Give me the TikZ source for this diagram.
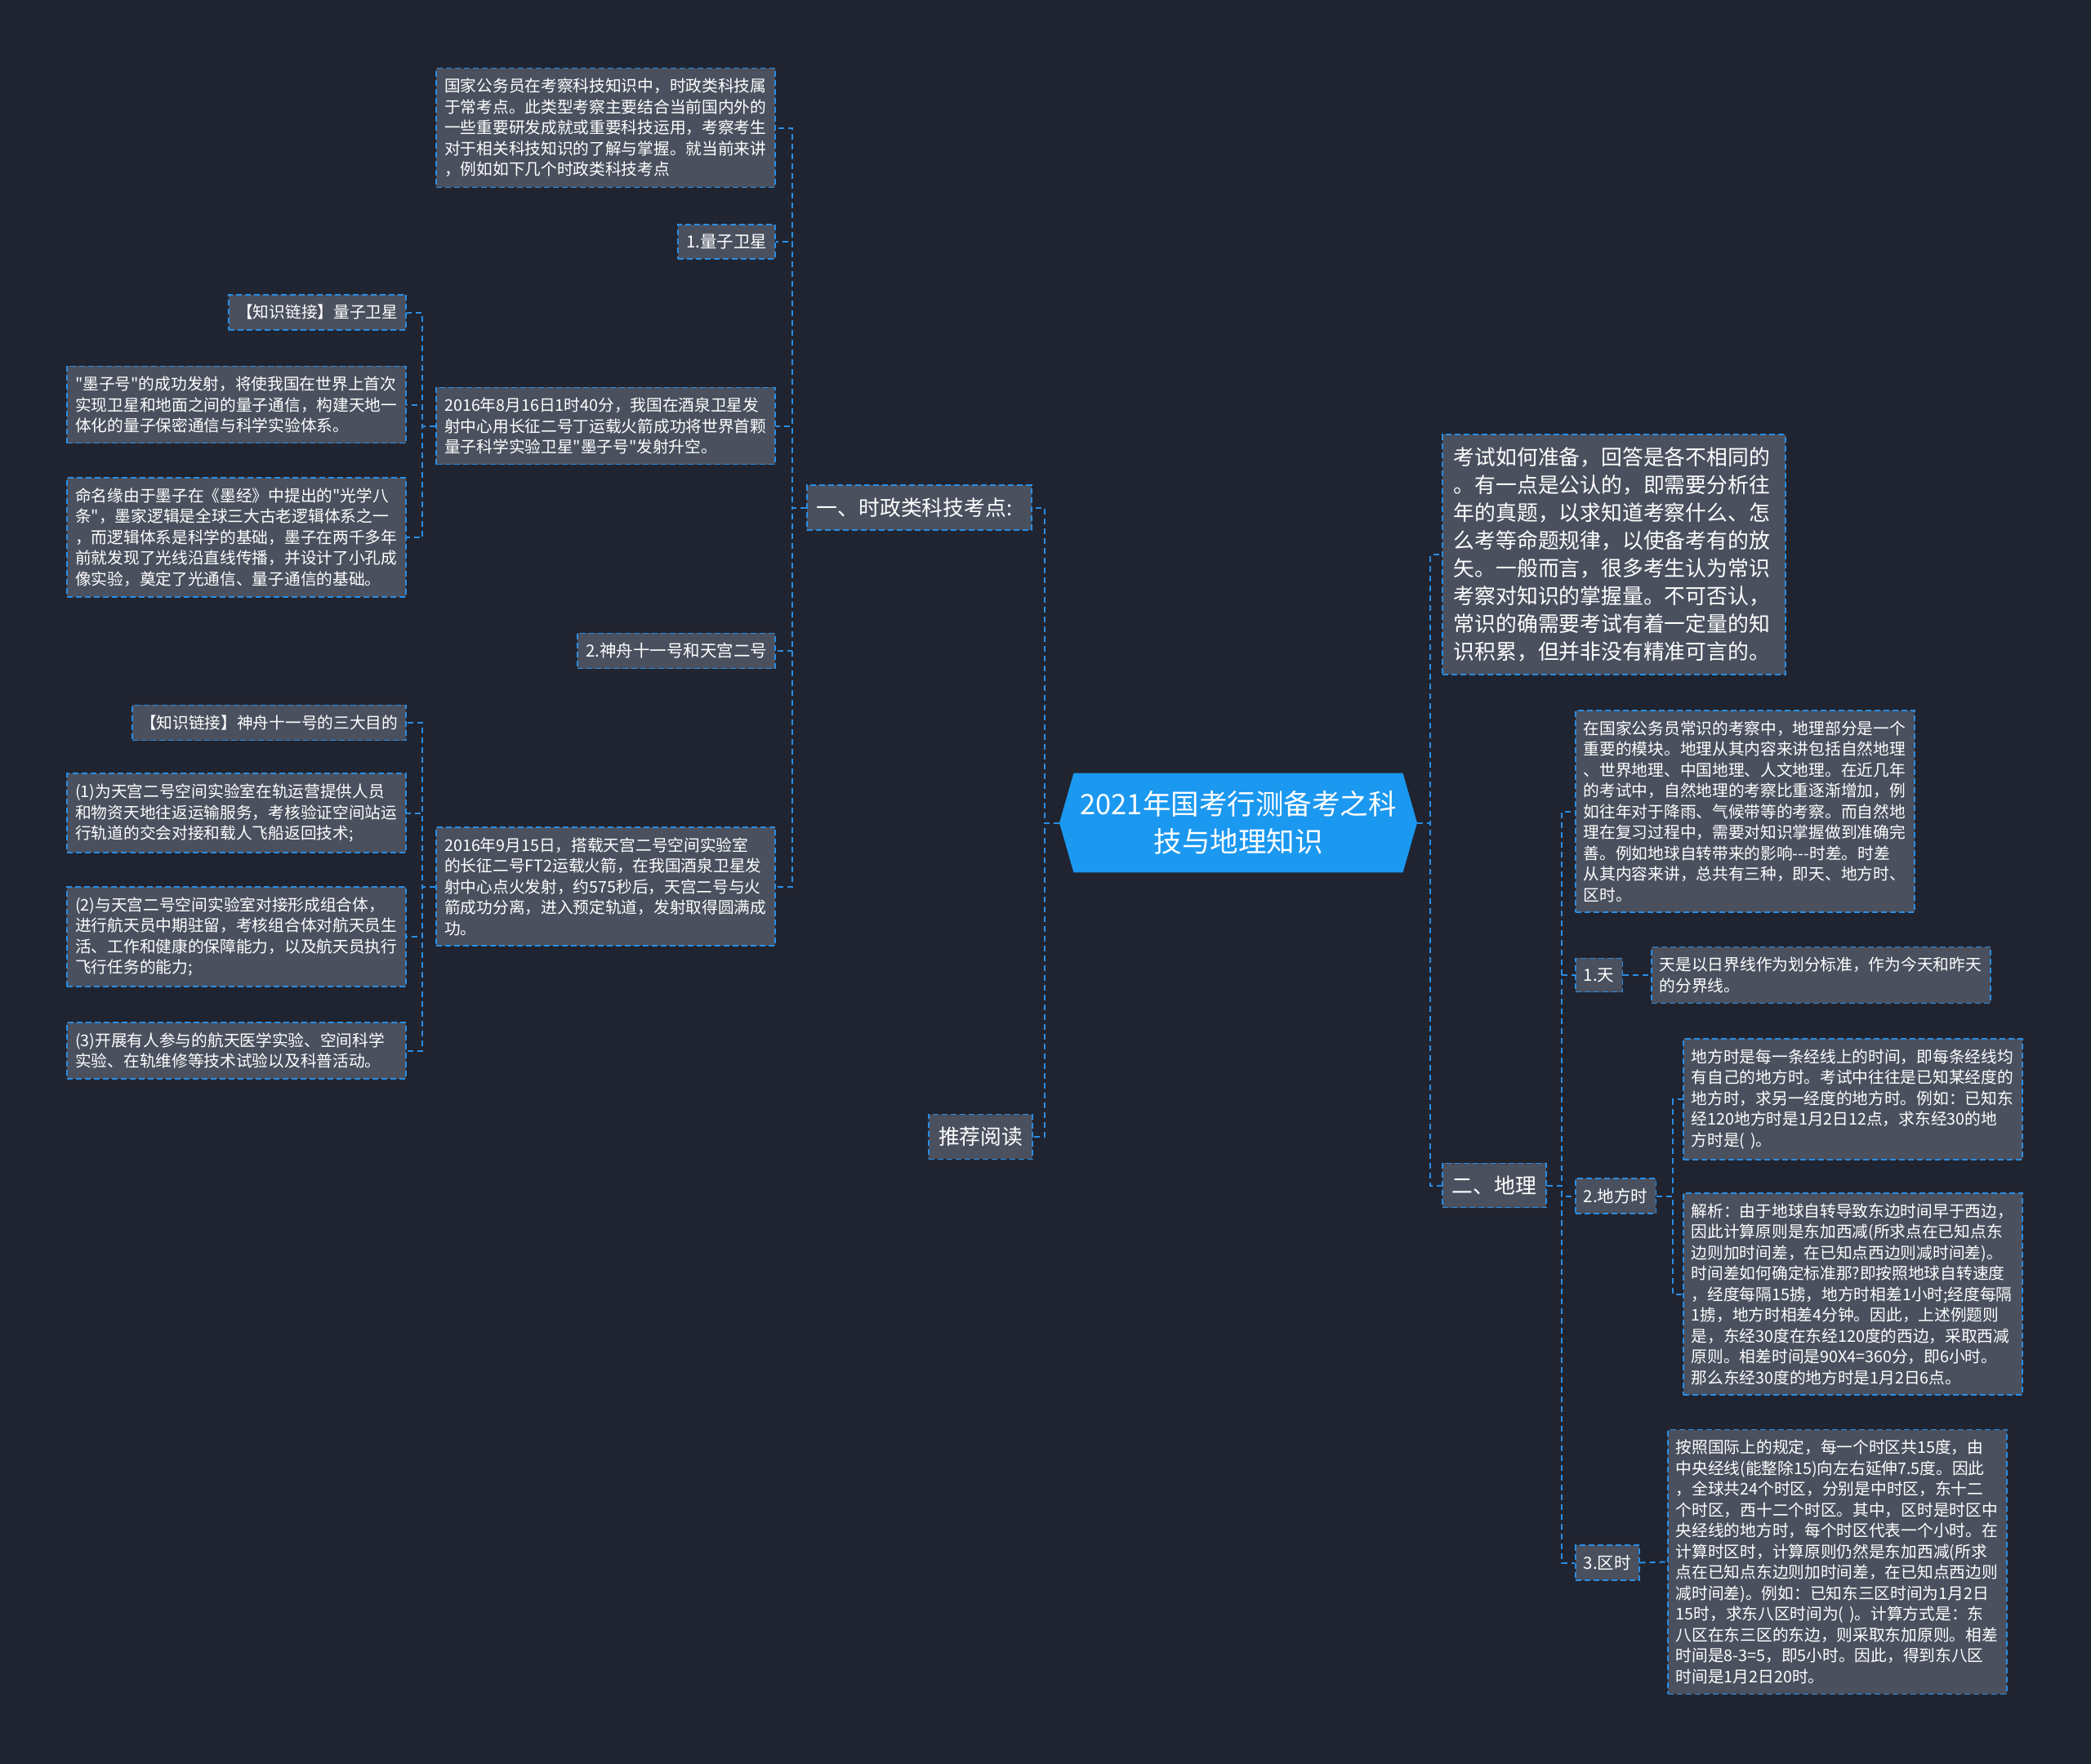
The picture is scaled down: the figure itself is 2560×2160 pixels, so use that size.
\documentclass[tikz,border=0pt]{standalone}
\usepackage{fontspec}
\newfontfamily\cjkfont{Noto Sans CJK SC}
\usetikzlibrary{shapes.symbols}

\definecolor{pagebg}{RGB}{32,36,48}
\definecolor{cardbg}{RGB}{74,80,94}
\definecolor{wireblue}{RGB}{41,141,228}
\definecolor{rootblue}{RGB}{27,152,240}

\begin{document}
\begin{tikzpicture}[x=1pt, y=-1pt,
    link/.style={draw=wireblue, line width=2pt, dash pattern=on 7pt off 5pt},
    card/.style={draw=wireblue, line width=1.6pt, dash pattern=on 7pt off 4pt, fill=cardbg, text=white,
        align=left, inner xsep=10pt, inner ysep=12.5pt, font=\cjkfont\fontsize{19.7}{25.5}\selectfont},
    para/.style={card, text width=395pt},
    tag/.style={card, inner ysep=12pt, font=\cjkfont\fontsize{20.5}{26}\selectfont},
    topic/.style={card, inner xsep=12pt, inner ysep=15.5pt, font=\cjkfont\fontsize{25.8}{34}\selectfont},
    bigpara/.style={topic, text width=392pt, inner xsep=14pt},
    root/.style={shape=signal, signal to=west and east, signal pointer angle=148, fill=rootblue, text=white,
        align=center, inner xsep=8pt, inner ysep=22pt, font=\cjkfont\fontsize{34.5}{45.7}\selectfont}
]
    % page
    \useasboundingbox (0,0) rectangle (2560,2160);
    \fill[pagebg] (0,0) rectangle (2560,2160);

    % centre topic
    \node[root] (root) at (1516,1007.5) {2021年国考行测备考之科\\技与地理知识};

    % main branches
    \node[topic, anchor=east] (l1) at (1264,621.5) {一、时政类科技考点:\hspace{12pt}};
    \node[topic, anchor=east] (l2) at (1265,1392) {推荐阅读};
    \node[bigpara, anchor=west] (r0) at (1765,679) {考试如何准备，回答是各不相同的\\。有一点是公认的，即需要分析往\\年的真题，以求知道考察什么、怎\\么考等命题规律，以使备考有的放\\矢。一般而言，很多考生认为常识\\考察对知识的掌握量。不可否认，\\常识的确需要考试有着一定量的知\\识积累，但并非没有精准可言的。};
    \node[topic, anchor=west] (r1) at (1765,1451.5) {二、地理};

    % science and technology
    \node[para, anchor=east] (t0) at (950,156.5) {国家公务员在考察科技知识中，时政类科技属\\于常考点。此类型考察主要结合当前国内外的\\一些重要研发成就或重要科技运用，考察考生\\对于相关科技知识的了解与掌握。就当前来讲\\，例如如下几个时政类科技考点};
    \node[tag, anchor=east] (t1) at (950,296) {1.量子卫星};
    \node[para, anchor=east] (t2) at (950,521.5) {2016年8月16日1时40分，我国在酒泉卫星发\\射中心用长征二号丁运载火箭成功将世界首颗\\量子科学实验卫星"墨子号"发射升空。};
    \node[tag, anchor=east] (t3) at (950,797) {2.神舟十一号和天宫二号};
    \node[para, anchor=east] (t4) at (950,1085.5) {2016年9月15日，搭载天宫二号空间实验室\\的长征二号FT2运载火箭，在我国酒泉卫星发\\射中心点火发射，约575秒后，天宫二号与火\\箭成功分离，进入预定轨道，发射取得圆满成\\功。};

    % quantum satellite details
    \node[card, anchor=east] (k1) at (498,382.5) {【知识链接】量子卫星};
    \node[para, anchor=east] (k2) at (498,495.5) {"墨子号"的成功发射，将使我国在世界上首次\\实现卫星和地面之间的量子通信，构建天地一\\体化的量子保密通信与科学实验体系。};
    \node[para, anchor=east] (k3) at (498,658) {命名缘由于墨子在《墨经》中提出的"光学八\\条"，墨家逻辑是全球三大古老逻辑体系之一\\，而逻辑体系是科学的基础，墨子在两千多年\\前就发现了光线沿直线传播，并设计了小孔成\\像实验，奠定了光通信、量子通信的基础。};

    % shenzhou details
    \node[card, anchor=east] (k4) at (498,885) {【知识链接】神舟十一号的三大目的};
    \node[para, anchor=east] (k5) at (498,995.5) {(1)为天宫二号空间实验室在轨运营提供人员\\和物资天地往返运输服务，考核验证空间站运\\行轨道的交会对接和载人飞船返回技术;};
    \node[para, anchor=east] (k6) at (498,1147) {(2)与天宫二号空间实验室对接形成组合体，\\进行航天员中期驻留，考核组合体对航天员生\\活、工作和健康的保障能力，以及航天员执行\\飞行任务的能力;};
    \node[para, anchor=east] (k7) at (498,1286.5) {(3)开展有人参与的航天医学实验、空间科学\\实验、在轨维修等技术试验以及科普活动。};

    % geography
    \node[para, anchor=west] (g0) at (1928,993.5) {在国家公务员常识的考察中，地理部分是一个\\重要的模块。地理从其内容来讲包括自然地理\\、世界地理、中国地理、人文地理。在近几年\\的考试中，自然地理的考察比重逐渐增加，例\\如往年对于降雨、气候带等的考察。而自然地\\理在复习过程中，需要对知识掌握做到准确完\\善。例如地球自转带来的影响---时差。时差\\从其内容来讲，总共有三种，即天、地方时、\\区时。};
    \node[tag, anchor=west] (g1) at (1928,1194) {1.天};
    \node[para, anchor=west] (g1a) at (2021,1194) {天是以日界线作为划分标准，作为今天和昨天\\的分界线。};
    \node[tag, anchor=west] (g2) at (1928,1464.5) {2.地方时};
    \node[para, anchor=west] (g2a) at (2060,1346) {地方时是每一条经线上的时间，即每条经线均\\有自己的地方时。考试中往往是已知某经度的\\地方时，求另一经度的地方时。例如：已知东\\经120地方时是1月2日12点，求东经30的地\\方时是( )。};
    \node[para, anchor=west] (g2b) at (2060,1584.5) {解析：由于地球自转导致东边时间早于西边，\\因此计算原则是东加西减(所求点在已知点东\\边则加时间差，在已知点西边则减时间差)。\\时间差如何确定标准那?即按照地球自转速度\\，经度每隔15掳，地方时相差1小时;经度每隔\\1掳，地方时相差4分钟。因此，上述例题则\\是，东经30度在东经120度的西边，采取西减\\原则。相差时间是90X4=360分，即6小时。\\那么东经30度的地方时是1月2日6点。};
    \node[tag, anchor=west] (g3) at (1928,1913.5) {3.区时};
    \node[para, anchor=west] (g3a) at (2041,1912.5) {按照国际上的规定，每一个时区共15度，由\\中央经线(能整除15)向左右延伸7.5度。因此\\，全球共24个时区，分别是中时区，东十二\\个时区，西十二个时区。其中，区时是时区中\\央经线的地方时，每个时区代表一个小时。在\\计算时区时，计算原则仍然是东加西减(所求\\点在已知点东边则加时间差，在已知点西边则\\减时间差)。例如：已知东三区时间为1月2日\\15时，求东八区时间为( )。计算方式是：东\\八区在东三区的东边，则采取东加原则。相差\\时间是8-3=5，即5小时。因此，得到东八区\\时间是1月2日20时。};

    % connectors
    \foreach \n in {l1,l2} \draw[link] (root.west) -- ++(-18,0) |- (\n.east);
    \foreach \n in {r0,r1} \draw[link] (root.east) -- ++(16,0) |- (\n.west);
    \foreach \n in {t0,t1,t2,t3,t4} \draw[link] (l1.west) -- ++(-17,0) |- (\n.east);
    \foreach \n in {k1,k2,k3} \draw[link] (t2.west) -- ++(-16,0) |- (\n.east);
    \foreach \n in {k4,k5,k6,k7} \draw[link] (t4.west) -- ++(-16,0) |- (\n.east);
    \foreach \n in {g0,g1,g2,g3} \draw[link] (r1.east) -- ++(18,0) |- (\n.west);
    \draw[link] (g1.east) -- (g1a.west);
    \foreach \n in {g2a,g2b} \draw[link] (g2.east) -- ++(20,0) |- (\n.west);
    \draw[link] (g3.east) -- (g3a.west);
\end{tikzpicture}
\end{document}
